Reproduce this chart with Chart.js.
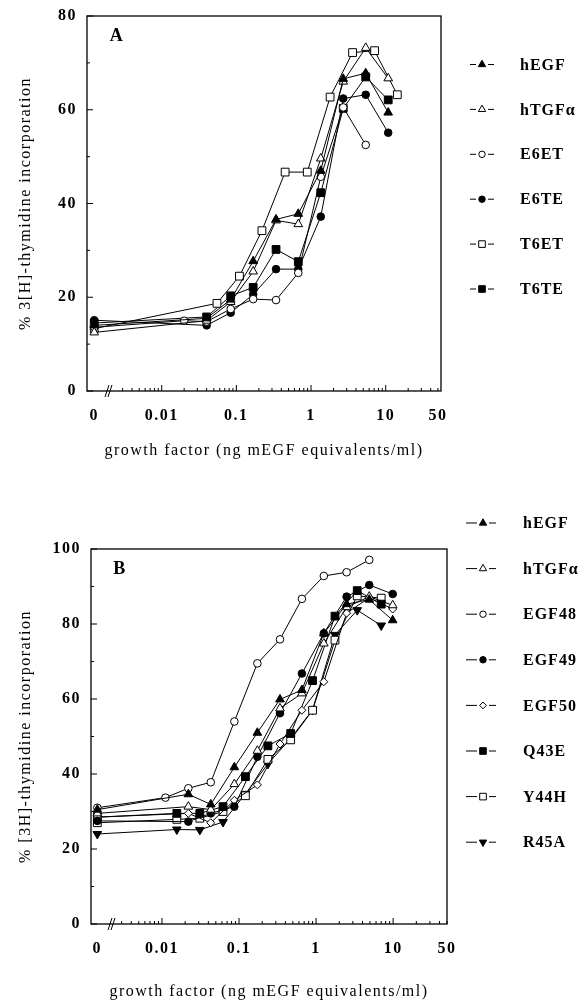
<!DOCTYPE html>
<html lang="en">
<head>
<meta charset="UTF-8" />
<title>3[H]-thymidine incorporation</title>
<script src="https://cdn.jsdelivr.net/npm/chart.js"></script>
<style>
  body { margin: 0; background: #fff; }
  canvas { position: absolute; left: 0; }
  #chartA { top: 0; }
  #chartB { top: 470px; }
</style>
</head>
<body>
<canvas id="chartA" width="587" height="470"></canvas>
<canvas id="chartB" width="587" height="532"></canvas>
<script>
// ---------- panel A data ----------
const seriesA = ['hEGF', 'hTGFα', 'E6ET', 'E6TE', 'T6ET', 'T6TE'];
const doseA      = [0, 0.04, 0.084, 0.168, 0.34, 0.675, 1.35, 2.7, 5.4, 10.8];
const doseA_E6ET = [0, 0.02, 0.04, 0.084, 0.168, 0.34, 0.675, 1.35, 2.7, 5.4];
const doseA_T6ET = [0, 0.055, 0.11, 0.22, 0.45, 0.89, 1.8, 3.6, 7.1, 14.3];
const hEGF_A  = [14.0, 15.5, 19.5, 27.7, 36.6, 37.8, 47.0, 66.6, 67.8, 59.4];
const hTGFa_A = [12.5, 15.0, 19.0, 25.5, 36.4, 35.6, 49.6, 66.0, 73.2, 66.7];
const E6ET_A  = [13.6, 15.0, 14.8, 17.5, 19.6, 19.4, 25.2, 45.7, 60.5, 52.5];
const E6TE_A  = [15.1, 14.0, 16.7, 20.6, 26.0, 26.0, 37.2, 62.4, 63.2, 55.1];
const T6ET_A  = [13.3, 18.7, 24.5, 34.2, 46.7, 46.7, 62.7, 72.2, 72.6, 63.2];
const T6TE_A  = [14.5, 15.8, 20.3, 22.1, 30.2, 27.6, 42.3, 60.3, 67.0, 62.1];

// ---------- panel B data ----------
const seriesB = ['hEGF', 'hTGFα', 'EGF48', 'EGF49', 'EGF50', 'Q43E', 'Y44H', 'R45A'];
const doseB1      = [0, 0.022, 0.043, 0.087, 0.173, 0.34, 0.655, 1.26, 2.49, 4.9, 9.87];
const doseB_EGF48 = [0, 0.0111, 0.022, 0.043, 0.087, 0.173, 0.34, 0.655, 1.26, 2.49, 4.9];
const doseB2      = [0, 0.0156, 0.031, 0.062, 0.121, 0.237, 0.468, 0.90, 1.76, 3.42, 7.0];
const hEGF_B  = [30.5, 34.6, 31.9, 41.8, 51.0, 59.9, 62.4, 77.5, 85.3, 86.5, 81.0];
const hTGFa_B = [29.5, 31.3, 30.5, 37.3, 46.2, 57.5, 61.5, 74.8, 84.5, 87.3, 85.0];
const EGF48_B = [31.0, 33.7, 36.2, 37.8, 54.0, 69.5, 75.9, 86.7, 92.8, 93.8, 97.1];
const EGF49_B = [27.5, 27.3, 29.5, 31.3, 44.6, 56.2, 66.8, 77.5, 87.3, 90.4, 88.0];
const EGF50_B = [28.5, 29.5, 27.0, 33.0, 37.1, 48.0, 57.0, 64.6, 82.9, 87.0, 84.0];
const Q43E_B  = [28.5, 29.5, 29.5, 31.3, 39.3, 47.5, 50.8, 64.9, 82.1, 88.9, 85.3];
const Y44H_B  = [27.0, 27.9, 28.2, 30.0, 34.2, 43.9, 49.1, 57.0, 75.7, 87.5, 86.9];
const R45A_B  = [24.0, 25.2, 25.1, 27.2, 34.7, 42.7, 49.5, 57.1, 77.1, 83.7, 79.6];

// x axis: "0" dose sits left of the break
const ZERO_A = 0.00125, ZERO_B = 0.00145;
const xTickLabels = ['0', '0.01', '0.1', '1', '10', '50'];
const xTicksA = [ZERO_A, 0.01, 0.1, 1, 10, 50];
const xTicksB = [ZERO_B, 0.01, 0.1, 1, 10, 50];
const yTicksA = [0, 20, 40, 60, 80];
const yTicksB = [0, 20, 40, 60, 80, 100];

const FONT = "'Liberation Serif', 'Times New Roman', serif";
Chart.defaults.font.family = FONT;
Chart.defaults.color = '#000';

const TRI_UP = { shape: 'triangle', rot: 0, r: 5 };
const TRI_DN = { shape: 'triangle', rot: 180, r: 5 };
const CIRC = { shape: 'circle', rot: 0, r: 3.8 };
const SQ = { shape: 'rect', rot: 0, r: 5.5 };
const DIA = { shape: 'rectRot', rot: 0, r: 4 };

function ds(label, doses, vals, zero, st, filled) {
  return {
    label,
    data: doses.map((d, i) => ({ x: d === 0 ? zero : d, y: vals[i] })),
    borderColor: '#000',
    borderWidth: 1,
    pointStyle: st.shape,
    pointRotation: st.rot,
    pointRadius: st.r,
    pointBackgroundColor: filled ? '#000' : '#fff',
    pointBorderColor: '#000',
    pointBorderWidth: 1,
    fill: false,
    tension: 0
  };
}

// legend marker, same geometry as chart.js point styles
function drawMarker(ctx, shape, rot, x, y, r, fillColor) {
  ctx.beginPath();
  if (shape === 'circle') {
    ctx.arc(x, y, r, 0, Math.PI * 2);
  } else if (shape === 'rect') {
    const s = r * Math.SQRT1_2;
    ctx.rect(x - s, y - s, 2 * s, 2 * s);
  } else if (shape === 'rectRot') {
    ctx.moveTo(x - r, y); ctx.lineTo(x, y - r); ctx.lineTo(x + r, y); ctx.lineTo(x, y + r);
    ctx.closePath();
  } else {
    let a = rot * Math.PI / 180;
    for (let k = 0; k < 3; k++) {
      const px = x + Math.sin(a) * r, py = y - Math.cos(a) * r;
      k === 0 ? ctx.moveTo(px, py) : ctx.lineTo(px, py);
      a += 2 * Math.PI / 3;
    }
    ctx.closePath();
  }
  ctx.fillStyle = fillColor;
  ctx.fill();
  ctx.stroke();
}

const decor = {
  id: 'decor',
  beforeDraw(chart) {
    chart.ctx.letterSpacing = '1.5px';
  },
  afterDraw(chart, args, o) {
    const { ctx, chartArea: a } = chart;
    const sx = chart.scales.x, sy = chart.scales.y;
    ctx.save();
    ctx.strokeStyle = '#000';
    ctx.lineWidth = 1.3;
    ctx.strokeRect(a.left, a.top, a.right - a.left, a.bottom - a.top);

    // inward ticks
    ctx.lineWidth = 1;
    ctx.beginPath();
    o.yTicks.forEach(v => {
      const p = sy.getPixelForValue(v);
      ctx.moveTo(a.left, p); ctx.lineTo(a.left + 6, p);
      const m = sy.getPixelForValue(v + o.yStep / 2);
      if (v + o.yStep / 2 < o.yMax) { ctx.moveTo(a.left, m); ctx.lineTo(a.left + 3, m); }
    });
    for (let e = -3; e <= 1; e++) {
      for (let m = 1; m <= 9; m++) {
        const v = m * Math.pow(10, e);
        if (v < 0.003 || v > 50) continue;
        const p = sx.getPixelForValue(v);
        ctx.moveTo(p, a.bottom); ctx.lineTo(p, a.bottom - (m === 1 ? 6 : 3));
      }
    }
    ctx.stroke();

    // axis break //
    ctx.beginPath();
    ctx.moveTo(o.breakX - 4, a.bottom + 6); ctx.lineTo(o.breakX, a.bottom - 6);
    ctx.moveTo(o.breakX - 1, a.bottom + 6); ctx.lineTo(o.breakX + 3, a.bottom - 6);
    ctx.stroke();

    // panel letter
    ctx.fillStyle = '#000';
    ctx.font = 'bold 18px ' + FONT;
    ctx.textAlign = 'center';
    ctx.textBaseline = 'middle';
    ctx.fillText(o.letter, o.letterX, o.letterY);

    // legend
    ctx.font = 'bold 16px ' + FONT;
    ctx.letterSpacing = '1px';
    ctx.textAlign = 'left';
    chart.data.datasets.forEach((d, i) => {
      const ly = o.legendTop + i * o.legendGap;
      ctx.beginPath();
      ctx.moveTo(o.legX0, ly); ctx.lineTo(o.legMX - 6, ly);
      ctx.moveTo(o.legMX + 6, ly); ctx.lineTo(o.legX1, ly);
      ctx.stroke();
      drawMarker(ctx, d.pointStyle, d.pointRotation, o.legMX, ly, d.pointRadius * 0.85, d.pointBackgroundColor);
      ctx.fillStyle = '#000';
      ctx.fillText(d.label, o.legTextX, ly + 1);
    });
    ctx.restore();
  }
};

function makeChart(id, datasets, c) {
  return new Chart(document.getElementById(id), {
    type: 'line',
    data: { datasets },
    options: {
      responsive: false,
      animation: false,
      events: [],
      layout: { padding: { left: 0, top: c.padTop, right: c.padRight, bottom: 0 } },
      plugins: { legend: { display: false }, tooltip: { enabled: false }, decor: c },
      scales: {
        x: {
          type: 'logarithmic',
          min: c.xMin,
          max: c.xMax,
          afterBuildTicks: s => { s.ticks = c.xTicks.map(v => ({ value: v })); },
          afterFit: s => { s.height = c.xAxisH; s.paddingLeft = 0; s.paddingRight = 0; },
          grid: { display: false, drawTicks: false },
          border: { display: false },
          ticks: {
            autoSkip: false, maxRotation: 0, padding: 15,
            font: { size: 16, weight: 'bold' },
            callback: (v, i) => xTickLabels[i]
          },
          title: {
            display: true,
            text: 'growth factor (ng mEGF equivalents/ml)',
            font: { size: 16 },
            padding: { top: 0, bottom: c.xTitlePad }
          }
        },
        y: {
          min: 0,
          max: c.yMax,
          afterBuildTicks: s => { s.ticks = c.yTicks.map(v => ({ value: v })); },
          afterFit: s => { s.width = c.yAxisW; s.paddingTop = 0; s.paddingBottom = 0; },
          grid: { display: false, drawTicks: false },
          border: { display: false },
          ticks: { padding: 10, font: { size: 16, weight: 'bold' } },
          title: {
            display: true,
            text: c.yTitle,
            font: { size: 16 },
            padding: { top: 16, bottom: 0 }
          }
        }
      }
    },
    plugins: [decor]
  });
}

makeChart('chartA', [
  ds(seriesA[0], doseA, hEGF_A, ZERO_A, TRI_UP, true),
  ds(seriesA[1], doseA, hTGFa_A, ZERO_A, TRI_UP, false),
  ds(seriesA[2], doseA_E6ET, E6ET_A, ZERO_A, CIRC, false),
  ds(seriesA[3], doseA, E6TE_A, ZERO_A, CIRC, true),
  ds(seriesA[4], doseA_T6ET, T6ET_A, ZERO_A, SQ, false),
  ds(seriesA[5], doseA, T6TE_A, ZERO_A, SQ, true)
], {
  padTop: 16, padRight: 146, xAxisH: 79, yAxisW: 87, xTitlePad: 10,
  xMin: 0.001, xMax: 55, xTicks: xTicksA, yMax: 80, yStep: 20, yTicks: yTicksA,
  yTitle: '% 3[H]-thymidine incorporation',
  breakX: 109, letter: 'A', letterX: 117, letterY: 36,
  legendTop: 64.5, legendGap: 44.9, legX0: 470, legMX: 482, legX1: 494, legTextX: 520
});

makeChart('chartB', [
  ds(seriesB[0], doseB1, hEGF_B, ZERO_B, TRI_UP, true),
  ds(seriesB[1], doseB1, hTGFa_B, ZERO_B, TRI_UP, false),
  ds(seriesB[2], doseB_EGF48, EGF48_B, ZERO_B, CIRC, false),
  ds(seriesB[3], doseB1, EGF49_B, ZERO_B, CIRC, true),
  ds(seriesB[4], doseB1, EGF50_B, ZERO_B, DIA, false),
  ds(seriesB[5], doseB2, Q43E_B, ZERO_B, SQ, true),
  ds(seriesB[6], doseB2, Y44H_B, ZERO_B, SQ, false),
  ds(seriesB[7], doseB2, R45A_B, ZERO_B, TRI_DN, true)
], {
  padTop: 79, padRight: 140, xAxisH: 78, yAxisW: 91, xTitlePad: 1,
  xMin: 0.0012, xMax: 50, xTicks: xTicksB, yMax: 100, yStep: 20, yTicks: yTicksB,
  yTitle: '% [3H]-thymidine incorporation',
  breakX: 112, letter: 'B', letterX: 120, letterY: 99,
  legendTop: 53, legendGap: 45.6, legX0: 466, legMX: 483, legX1: 496, legTextX: 523
});
</script>
</body>
</html>
